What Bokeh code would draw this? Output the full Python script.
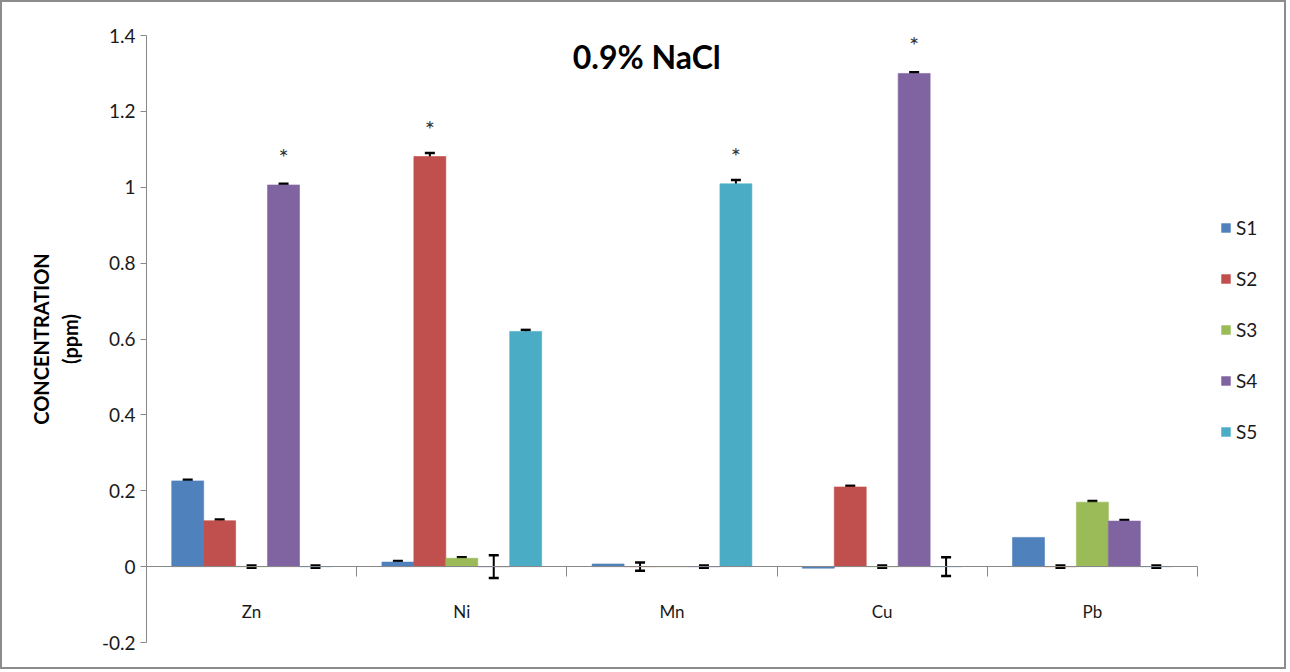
from bokeh.plotting import figure
from bokeh.models import (ColumnDataSource, FixedTicker, Legend, LegendItem,
                          Whisker, TeeHead, Label, Range1d, LinearAxis)
from bokeh.core.properties import value
from bokeh.embed import file_html
from bokeh.resources import INLINE

metals = ["Zn", "Ni", "Mn", "Cu", "Pb"]
series = ["S1", "S2", "S3", "S4", "S5"]
colors = ["#4F81BD", "#C0504D", "#9BBB59", "#8064A2", "#4BACC6"]

s1 = [0.226, 0.012, 0.007, -0.004, 0.077]
s2 = [0.121, 1.081, 0.0, 0.210, 0.0]
s3 = [0.0, 0.022, 0.0, 0.0, 0.170]
s4 = [1.006, 0.0, 0.0, 1.300, 0.120]
s5 = [0.0, 0.620, 1.009, 0.0, 0.0]

e1 = [0.003, 0.003, 0.0, 0.0, 0.0]
e2 = [0.003, 0.009, 0.011, 0.003, 0.003]
e3 = [0.003, 0.003, 0.0, 0.003, 0.003]
e4 = [0.003, 0.030, 0.003, 0.003, 0.003]
e5 = [0.003, 0.004, 0.010, 0.025, 0.003]

# significance marks: (metal, series)
stars = [("Zn", "S4"), ("Ni", "S2"), ("Mn", "S5"), ("Cu", "S4")]

ytick_vals = [-0.2, 0.0, 0.2, 0.4, 0.6, 0.8, 1.0, 1.2, 1.4]
ytick_labels = ["-0.2", "0", "0.2", "0.4", "0.6", "0.8", "1", "1.2", "1.4"]

title_text = "0.9% NaCl"
ylabel = "CONCENTRATION\n(ppm)"

values = [s1, s2, s3, s4, s5]
errors = [e1, e2, e3, e4, e5]

FONT = "Lato"
BW = 0.152

n = len(metals)
AXIS_W = 1051          # pixel width of the category axis
FRAME_W = 1130         # frame extends to the right to host the legend
x_end = n * FRAME_W / AXIS_W

p = figure(frame_width=FRAME_W, frame_height=607, output_backend="svg", toolbar_location=None,
           x_range=Range1d(0, x_end), y_range=Range1d(-0.2, 1.4),
           x_axis_type=None, min_border_left=144, min_border_top=33,
           min_border_bottom=25, min_border_right=8)
p.outline_line_color = None
p.xgrid.visible = False
p.ygrid.visible = False
p.background_fill_color = "white"
p.styles = {"border": "2px solid #8c8c8c"}

# y axis
ya = p.yaxis[0]
ya.ticker = FixedTicker(ticks=ytick_vals, minor_ticks=[])
ya.major_label_overrides = {v: l for v, l in zip(ytick_vals, ytick_labels)}
ya.major_label_text_font = FONT
ya.major_label_text_font_size = "19px"
ya.major_label_text_color = "#1a1a1a"
ya.axis_line_color = "#888888"
ya.major_tick_line_color = "#888888"
ya.major_tick_in = 0
ya.major_tick_out = 6
ya.minor_tick_line_color = None
ya.axis_label = ylabel
ya.axis_label_text_font = FONT
ya.axis_label_text_font_style = "bold"
ya.axis_label_text_font_size = "20px"
ya.axis_label_text_color = "#000000"
ya.axis_label_standoff = 17

# x axis at zero
centers = [i + 0.5 for i in range(n)]
xa = LinearAxis(fixed_location=0, bounds=(0, n))
xa.ticker = FixedTicker(ticks=centers, minor_ticks=list(range(n + 1)))
xa.major_label_overrides = {c: m for c, m in zip(centers, metals)}
xa.major_tick_line_color = None
xa.minor_tick_line_color = "#888888"
xa.minor_tick_in = 0
xa.minor_tick_out = 10
xa.axis_line_color = "#888888"
xa.major_label_standoff = 24
xa.major_label_text_font = FONT
xa.major_label_text_font_size = "17px"
xa.major_label_text_color = "#1a1a1a"
p.add_layout(xa, "below")

items = []
for j, (name, vals, errs, col) in enumerate(zip(series, values, errors, colors)):
    xs = [c + (j - 2) * BW for c in centers]
    src = ColumnDataSource(dict(x=xs, top=vals))
    r = p.vbar(x="x", top="top", bottom=0, width=BW, source=src,
               fill_color=col, line_color=col, line_alpha=0.6)
    items.append(LegendItem(label=name, renderers=[r]))
    ex = [x for x, e in zip(xs, errs) if e > 0]
    ev = [v for v, e in zip(vals, errs) if e > 0]
    ee = [e for e in errs if e > 0]
    esrc = ColumnDataSource(dict(base=ex, upper=[v + e for v, e in zip(ev, ee)],
                                 lower=[v - e for v, e in zip(ev, ee)]))
    w = Whisker(base="base", upper="upper", lower="lower", source=esrc,
                dimension="height", line_color="black", line_width=2,
                upper_head=TeeHead(size=10, line_width=2.5, line_color="black"),
                lower_head=TeeHead(size=10, line_width=2.5, line_color="black"))
    p.add_layout(w)

sx, sy = [], []
for m, s in stars:
    i = metals.index(m)
    j = series.index(s)
    sx.append(centers[i] + (j - 2) * BW)
    sy.append(values[j][i] + 0.075)
p.text(x=sx, y=sy, text=["*"] * len(sx), text_align="center", text_baseline="middle",
       text_font=value(FONT), text_font_size="24px", text_color="#333333")

p.add_layout(Label(x=2.38, y=1.345, text=title_text, text_align="center",
                   text_baseline="middle", text_font=FONT, text_font_style="bold",
                   text_font_size="32px", text_color="#000000"))

legend = Legend(items=items, location=(1074, 199), glyph_width=11, glyph_height=11,
                label_text_font=FONT, label_text_font_size="19px",
                label_text_color="#1a1a1a", spacing=28, padding=6, margin=0,
                border_line_color=None, background_fill_alpha=0)
p.add_layout(legend)

open("out.html", "w").write(file_html(p, INLINE))
